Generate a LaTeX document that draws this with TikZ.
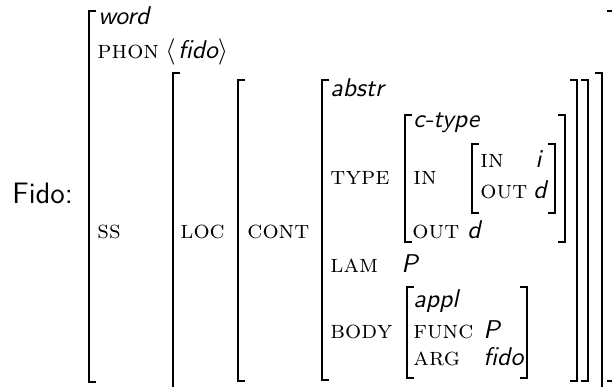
\documentclass[tikz,border=0pt]{standalone}
\usepackage{tikz}

\begin{document}
\begin{tikzpicture}[x=0.4167pt,y=-0.4167pt,
    lab/.style={anchor=base west,inner sep=0pt,font=\fontsize{10.6}{13}\selectfont\scshape},
    val/.style={anchor=base west,inner sep=0pt,font=\fontsize{10.7}{13}\selectfont\sffamily\itshape},
    brak/.style={line width=0.75pt}]
    \useasboundingbox (0,0) rectangle (612,387);
    \clip (0,0) rectangle (612,387);

    \node[anchor=base west,inner sep=0pt,font=\sffamily\fontsize{12.3}{14}\selectfont] (fido) at (12,203) {Fido:};

    % outer matrix
    \node[val] (word) at (98,25) {word};
    \node[lab] (phon) at (97,59) {phon};
    \node[val] (phonval) at (165,59) {$\bigl\langle$\kern1pt fido$\bigr\rangle$};
    \node[lab] (ss) at (97,238) {ss};
    \node[lab] (loc) at (180,238) {loc};
    \node[lab] (cont) at (247,238) {cont};

    % content
    \node[val] (abstr) at (330,97) {abstr};
    \node[lab] (type) at (330,185) {type};
    \node[lab] (lam) at (330,272) {lam};
    \node[val] (lamval) at (401,272) {P};
    \node[lab] (body) at (330,338) {body};

    % type value
    \node[val] (ctype) at (413,128) {c-type};
    \node[lab] (in) at (413,185) {in};
    \node[lab] (out) at (412,239) {out};
    \node[val] (outval) at (467,239) {d};
    \node[lab] (inin) at (480,168) {in};
    \node[val] (ininval) at (535,168) {i};
    \node[lab] (inout) at (480,199) {out};
    \node[val] (inoutval) at (533,199) {d};

    % body value
    \node[val] (appl) at (413,308) {appl};
    \node[lab] (func) at (413,338) {func};
    \node[val] (funcval) at (483,338) {P};
    \node[lab] (arg) at (413,365) {arg};
    \node[val] (argval) at (483,365) {fido};

    % left brackets
    \foreach \x/\t/\b in {89/11/382, 173/73/395, 238/80/381, 322/80/380,
                          405/115/242, 472/144/213, 407/287/378}
        \draw[brak] (\x+7,\t) -- (\x,\t) -- (\x,\b) -- (\x+7,\b);
    % right brackets
    \foreach \x/\t/\b in {614/11/381, 602/73/395, 588/80/381, 577/80/381,
                          565/115/242, 555/144/213, 527/287/378}
        \draw[brak] (\x-7,\t) -- (\x,\t) -- (\x,\b) -- (\x-7,\b);
\end{tikzpicture}
\end{document}
